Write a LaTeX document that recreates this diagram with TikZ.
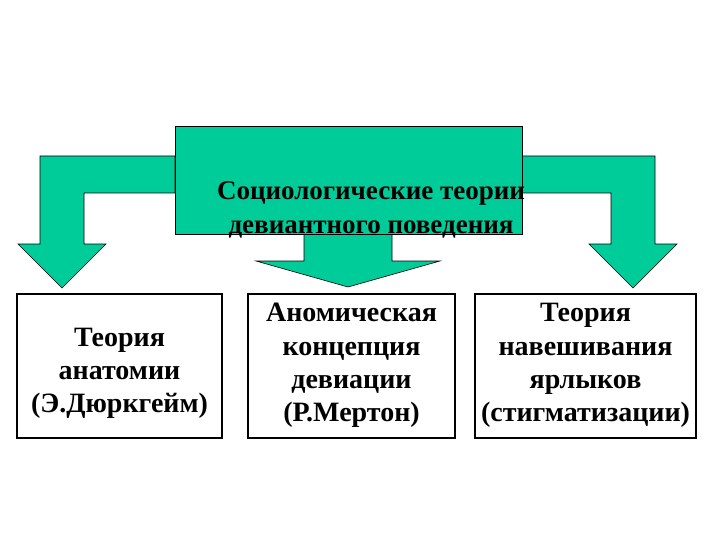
\documentclass[tikz,border=0pt]{standalone}
\usepackage{fontspec}
\setmainfont{Liberation Serif}
\usetikzlibrary{positioning}
\definecolor{arrowgreen}{RGB}{0,204,153}
\tikzset{theory/.style={draw, line width=2pt, minimum height=144pt, align=center, inner sep=2pt,
    font=\bfseries\fontsize{28}{33.3}\selectfont},
  blockarrow/.style={fill=arrowgreen, draw=black, line width=0.6pt}}

\begin{document}
\begin{tikzpicture}[x=1pt, y=-1pt]
\useasboundingbox (0,0) rectangle (720,540);
% bent arrows and middle arrow
\draw[blockarrow] (175,156) -- (40,156) -- (40,244) -- (18,244) -- (62,288) -- (106,244) -- (84,244) -- (84,193) -- (175,193) -- cycle;
\draw[blockarrow] (521,156) -- (655,156) -- (655,244) -- (677,244) -- (633,288) -- (589,244) -- (611,244) -- (611,193) -- (521,193) -- cycle;
\draw[blockarrow] (304,233) -- (304,261) -- (256,261) -- (348,287) -- (440,261) -- (392,261) -- (392,233) -- cycle;
% top box
\node[fill=arrowgreen, draw=black, line width=0.6pt, minimum width=347pt, minimum height=108pt, inner sep=0pt] (T) at (348.5,180) {};
\node[align=center, font=\bfseries\fontsize{27}{34}\selectfont] (Ttext) at (371,210) {Социологические теории\\девиантного поведения};
% theories
\node[theory, minimum width=205pt] (S1) at (119.5,365.5) {};
\node[align=center, font=\bfseries\fontsize{28}{33.3}\selectfont] (S1text) at ([yshift=-8pt]S1.center) {Теория\\анатомии\\(Э.Дюркгейм)};
\node[theory, minimum width=207pt, right=24pt of S1] (S2) {Аномическая\\концепция\\девиации\\(Р.Мертон)};
\node[theory, minimum width=221pt, right=18pt of S2] (S3) {Теория\\навешивания\\ярлыков\\(стигматизации)};
\end{tikzpicture}
\end{document}
